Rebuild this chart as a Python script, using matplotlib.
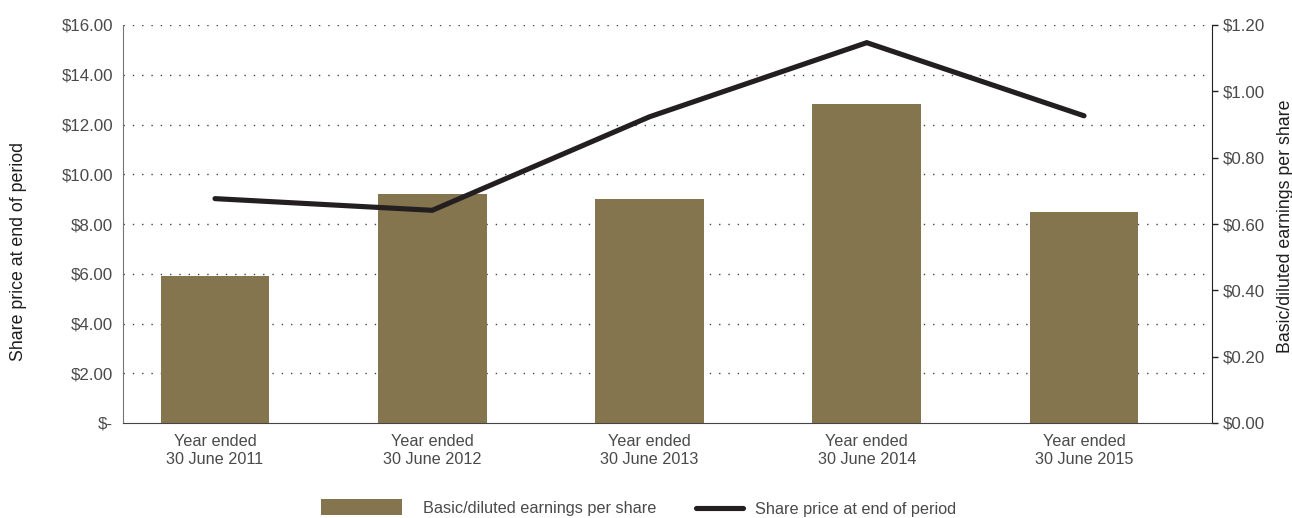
import matplotlib.pyplot as plt
from matplotlib.patches import Patch
from matplotlib.lines import Line2D

plt.rcParams['font.family'] = ['Liberation Sans', 'DejaVu Sans']

categories = ['Year ended\n30 June 2011', 'Year ended\n30 June 2012', 'Year ended\n30 June 2013',
              'Year ended\n30 June 2014', 'Year ended\n30 June 2015']
eps = [0.443, 0.690, 0.675, 0.962, 0.636]
share_price = [9.02, 8.55, 12.31, 15.29, 12.35]
left_ticks = [0, 2, 4, 6, 8, 10, 12, 14, 16]
left_labels = ['$-', '$2.00', '$4.00', '$6.00', '$8.00', '$10.00', '$12.00', '$14.00', '$16.00']
right_ticks = [0, 0.2, 0.4, 0.6, 0.8, 1.0, 1.2]
right_labels = ['$0.00', '$0.20', '$0.40', '$0.60', '$0.80', '$1.00', '$1.20']

bar_color = '#85754E'
line_color = '#231F20'
text_color = '#4a4a4a'
label_color = '#1e1e1e'

fig = plt.figure(figsize=(12.92, 5.18), dpi=100)
ax = fig.add_axes([123 / 1292, 1 - 423 / 518, (1212 - 123) / 1292, 398 / 518])
ax2 = ax.twinx()

x = list(range(len(categories)))

# bars on the right (EPS) axis, line on the left (share price) axis
ax2.bar(x, eps, width=0.5, color=bar_color, zorder=2)
ax2.set_ylim(0, 1.2)
ax.set_ylim(0, 16)
ax.set_xlim(-0.4235, 4.589)

ax.set_zorder(ax2.get_zorder() + 1)
ax.patch.set_visible(False)
ax.plot(x, share_price, color=line_color, lw=3.7, solid_capstyle='round', solid_joinstyle='miter', zorder=3)

# dotted gridlines behind the bars
for t in left_ticks[1:]:
    ax2.axhline(t * 1.2 / 16, color='#444444', lw=1.0, ls=(0, (1, 5.7)), zorder=1)

ax.set_yticks(left_ticks)
ax.set_yticklabels(left_labels)
ax.tick_params(axis='y', length=0, pad=7, labelsize=12.2, labelcolor=text_color)
ax.set_xticks(x)
ax.set_xticklabels(categories)
ax.tick_params(axis='x', length=0, pad=8, labelsize=11.7, labelcolor=text_color)

ax2.set_yticks(right_ticks)
ax2.set_yticklabels(right_labels)
ax2.tick_params(axis='y', length=4, width=1, direction='out', pad=4, labelsize=12.2,
                labelcolor=text_color, color='#222222')

for a in (ax, ax2):
    a.spines['top'].set_visible(False)
ax.spines['left'].set_color('#777777')
ax.spines['right'].set_visible(False)
ax.spines['bottom'].set_color('#444444')
ax2.spines['left'].set_visible(False)
ax2.spines['bottom'].set_visible(False)
ax2.spines['right'].set_color('#222222')

ax.set_ylabel('Share price at end of period', fontsize=12.8, color=label_color)
ax.yaxis.set_label_coords(-0.088, 0.43)
ax2.set_ylabel('Basic/diluted earnings per share', fontsize=12.8, color=label_color)
ax2.yaxis.set_label_coords(1.0595, 0.495)

# legend: two single-entry legends so each handle keeps its own length
leg_kw = dict(frameon=False, fontsize=11.7, labelcolor=text_color, loc='center left',
              borderpad=0, borderaxespad=0)
fig.legend([Patch(facecolor=bar_color, edgecolor='none')], ['Basic/diluted earnings per share'],
           bbox_to_anchor=(321 / 1292, 1 - 507.5 / 518), handlelength=5.0, handleheight=1.1,
           handletextpad=1.3, **leg_kw)
fig.legend([Line2D([0], [0], color=line_color, lw=3.7, solid_capstyle='round')],
           ['Share price at end of period'],
           bbox_to_anchor=(696 / 1292, 1 - 509.5 / 518), handlelength=2.9,
           handletextpad=0.75, **leg_kw)

fig.savefig('out.png', dpi=100)
